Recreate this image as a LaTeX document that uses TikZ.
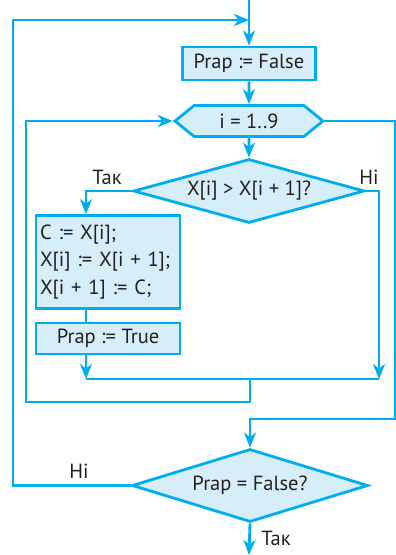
\documentclass[tikz,border=0pt]{standalone}
\usepackage{fontspec}
\setmainfont{PT Sans}
\usetikzlibrary{shapes.geometric,shapes.symbols,arrows.meta}
\definecolor{flowline}{RGB}{0,174,239}
\definecolor{flowfill}{RGB}{214,238,250}
\definecolor{flowtext}{RGB}{35,31,32}
\tikzset{
  flowbox/.style={draw=flowline, fill=flowfill, line width=2.8pt, inner sep=0pt,
    text=flowtext, font=\fontsize{20.5}{24}\selectfont},
  decide/.style={flowbox, diamond},
  flowlbl/.style={text=flowtext, font=\fontsize{20.5}{24}\selectfont, inner sep=0pt},
  arr/.style={-{Stealth[length=15pt,width=12pt,inset=4.5pt]}},
}
\begin{document}
\begin{tikzpicture}[x=1pt, y=-1pt, line width=2.8pt, flowline]
  \useasboundingbox (0,0) rectangle (396,555);
  % blocks
  \node[flowbox, minimum width=133pt, minimum height=33pt] (prapF) at (249,63.5) {Prap := False};
  \node[flowbox, signal, signal to=east and west, signal pointer angle=78,
    minimum width=148pt, minimum height=31pt] (loop) at (249,121) {i = 1..9};
  \node[decide, shape aspect=3.6, minimum width=231pt, minimum height=64pt] (cmp) at (249,191) {X[i] > X[i + 1]?};
  \node[flowbox, minimum width=144pt, minimum height=93pt, text width=136pt,
    align=left, inner xsep=4pt, font=\fontsize{20.5}{27.5}\selectfont] (swap) at (108,262)
    {C := X[i];\\ X[i] := X[i + 1];\\ X[i + 1] := C;};
  \node[flowbox, minimum width=144pt, minimum height=31pt] (prapT) at (108,338.5) {Prap := True};
  \node[decide, shape aspect=3.2, minimum width=236pt, minimum height=73pt] (chk) at (250,485.5) {Prap = False?};
  % helper points
  \coordinate (top) at (249,0);
  \coordinate (outl) at (13,20);
  \coordinate (lx) at (86,0);
  \coordinate (rx) at (379,0);
  \coordinate (join) at (250,379);
  \coordinate (inl) at (26,402);
  \coordinate (rr) at (395,419);
  \coordinate (exit) at (249,555);
  % connectors
  \draw[arr] (top) -- (prapF);
  \draw[arr] (chk.west) -| (outl) -- (outl -| top);
  \draw[arr] (prapF) -- (loop);
  \draw[arr] (loop) -- (cmp);
  \draw[arr] (cmp.west) -| (lx |- swap.north);
  \draw (lx |- swap.south) -- (lx |- prapT.north);
  \draw[arr] (lx |- prapT.south) -- (lx |- join);
  \draw[arr] (cmp.east) -| (rx |- join);
  \draw (lx |- join) -- (rx |- join);
  \draw[arr] (join) |- (inl) |- (loop.west);
  \draw[arr] (loop.east) -| (rr) -| (chk.north);
  \draw[arr] (chk.south) -- (exit);
  % labels
  \node[flowlbl] (yes1) at (107,177) {Так};
  \node[flowlbl] (no1) at (369,177) {Ні};
  \node[flowlbl] (no2) at (79,471) {Ні};
  \node[flowlbl] (yes2) at (276,538) {Так};
\end{tikzpicture}
\end{document}
